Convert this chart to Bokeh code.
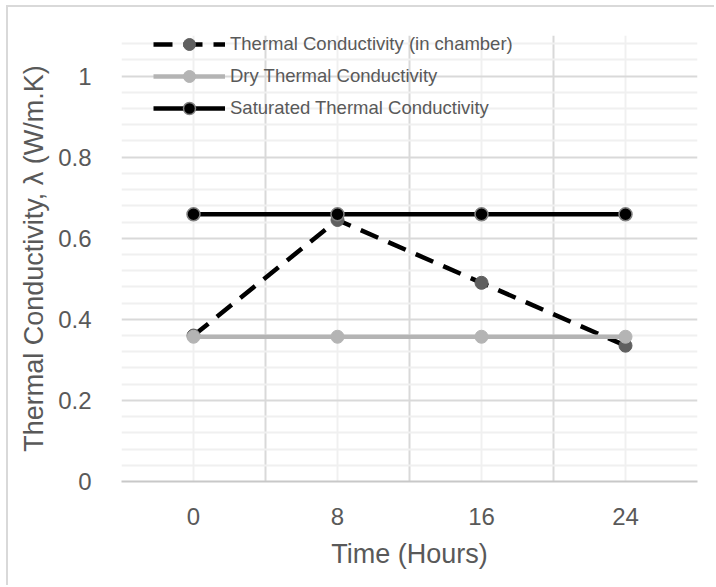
from bokeh.plotting import figure
from bokeh.models import Range1d, FixedTicker, NumeralTickFormatter, Legend, LegendItem
from bokeh.embed import file_html
from bokeh.resources import INLINE

# Measurements over time
hours = [0, 8, 16, 24]
in_chamber = [0.36, 0.645, 0.49, 0.335]
dry = [0.357, 0.357, 0.357, 0.357]
saturated = [0.659, 0.659, 0.659, 0.659]

x_tick_labels = [0, 8, 16, 24]
y_ticks = [0, 0.2, 0.4, 0.6, 0.8, 1.0]

FONT = "Liberation Sans"
TEXT = "#595959"
GRID_MAJOR = "#d9d9d9"
GRID_MINOR = "#f0f0f0"

p = figure(
    width=708, height=580,
    x_range=Range1d(-4, 28), y_range=Range1d(0, 1.1),
    output_backend="svg", toolbar_location=None,
    min_border_left=113, min_border_right=19,
    min_border_top=28, min_border_bottom=106,
    margin=(5, 0, 0, 6),
    styles={"border-left": "2px solid #d9d9d9", "border-top": "2px solid #d9d9d9"},
)
p.outline_line_color = None

# gridlines: major between the time points, minor through them
p.xgrid.ticker = FixedTicker(ticks=[-4, 4, 12, 20, 28], minor_ticks=x_tick_labels)
p.xgrid.grid_line_color = GRID_MAJOR
p.xgrid.grid_line_width = 2
p.xgrid.minor_grid_line_color = GRID_MINOR
p.xgrid.minor_grid_line_width = 2

y_minor = [round(0.04 * k, 2) for k in range(1, 28) if k % 5 != 0]
p.ygrid.ticker = FixedTicker(ticks=y_ticks, minor_ticks=y_minor)
p.ygrid.grid_line_color = GRID_MAJOR
p.ygrid.grid_line_width = 2
p.ygrid.minor_grid_line_color = GRID_MINOR
p.ygrid.minor_grid_line_width = 2

# axes
p.xaxis.ticker = FixedTicker(ticks=x_tick_labels)
p.yaxis.ticker = FixedTicker(ticks=y_ticks)
p.yaxis.formatter = NumeralTickFormatter(format="0.[0]")
for ax in (p.xaxis[0], p.yaxis[0]):
    ax.major_tick_line_color = None
    ax.minor_tick_line_color = None
    ax.major_label_text_font = FONT
    ax.major_label_text_font_size = "24px"
    ax.major_label_text_color = TEXT
    ax.axis_label_text_font = FONT
    ax.axis_label_text_font_size = "27px"
    ax.axis_label_text_font_style = "normal"
    ax.axis_label_text_color = TEXT
p.yaxis.axis_line_color = None
p.xaxis.axis_line_color = "#c8c8c8"
p.xaxis.axis_line_width = 2
p.xaxis.major_label_standoff = 20
p.yaxis.major_label_standoff = 24
p.xaxis.axis_label = "Time (Hours)"
p.yaxis.axis_label = "Thermal Conductivity, λ (W/m.K)"
p.xaxis.axis_label_standoff = 11
p.yaxis.axis_label_standoff = 6

# series
r1l = p.line(hours, in_chamber, line_color="black", line_width=4.5, line_dash="19 11")
r1m = p.scatter(hours, in_chamber, size=13, fill_color="#5f5f5f", line_color="#5f5f5f")
r2l = p.line(hours, dry, line_color="#b4b4b4", line_width=4.5)
r2m = p.scatter(hours, dry, size=13, fill_color="#b4b4b4", line_color="#b4b4b4")
r3l = p.line(hours, saturated, line_color="black", line_width=4.5)
r3m = p.scatter(hours, saturated, size=13, fill_color="black", line_color="#808080", line_width=1.5)

legend = Legend(
    items=[
        LegendItem(label="Thermal Conductivity (in chamber)", renderers=[r1l, r1m]),
        LegendItem(label="Dry Thermal Conductivity", renderers=[r2l, r2m]),
        LegendItem(label="Saturated Thermal Conductivity", renderers=[r3l, r3m]),
    ],
    location=(32, 358),
    padding=0, margin=0, spacing=2,
    glyph_width=72, glyph_height=30, label_height=30,
    label_standoff=5,
    label_text_font=FONT, label_text_font_size="18.5px", label_text_color=TEXT,
    background_fill_alpha=0, border_line_color=None,
)
p.add_layout(legend, "center")

open("out.html", "w").write(file_html(p, INLINE))
